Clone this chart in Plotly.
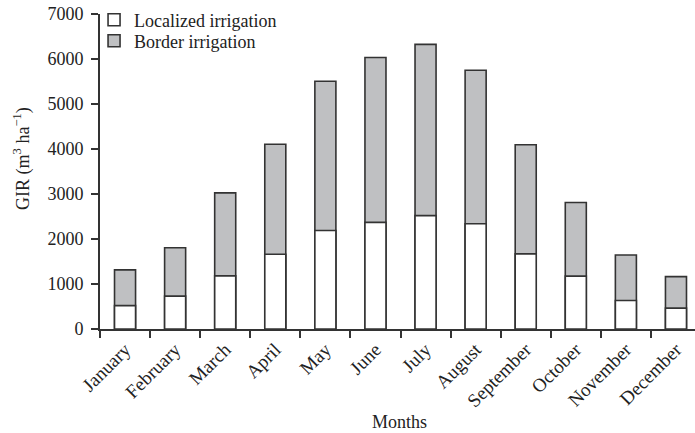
import plotly.graph_objects as go

months = ["January", "February", "March", "April", "May", "June", "July",
          "August", "September", "October", "November", "December"]
localized = [520, 730, 1180, 1660, 2190, 2370, 2520, 2340, 1670, 1175, 635, 465]
border = [1315, 1805, 3025, 4105, 5505, 6035, 6325, 5750, 4095, 2810, 1645, 1165]
y_ticks = [0, 1000, 2000, 3000, 4000, 5000, 6000, 7000]

FONT = "Liberation Serif"
LINE = "#333333"
FS = 18

fig = go.Figure()
fig.add_trace(go.Bar(
    x=months, y=border, name="Border irrigation", legend="legend2",
    marker=dict(color="#bfc0c2", line=dict(color=LINE, width=1.6)),
    width=0.42,
))
fig.add_trace(go.Bar(
    x=months, y=localized, name="Localized irrigation", legend="legend",
    marker=dict(color="white", line=dict(color=LINE, width=1.6)),
    width=0.42,
))

leg_common = dict(xref="paper", yref="container", xanchor="left", yanchor="middle",
                  bgcolor="rgba(0,0,0,0)", font=dict(size=FS), itemwidth=30,
                  borderwidth=0)

fig.update_layout(
    width=695, height=433,
    margin=dict(l=100, r=0, t=14, b=104, autoexpand=False),
    barmode="overlay",
    plot_bgcolor="white", paper_bgcolor="white",
    font=dict(family=FONT, size=FS, color="#222222"),
    showlegend=True,
    legend=dict(x=-0.01, y=1 - 20 / 433, **leg_common),
    legend2=dict(x=-0.01, y=1 - 41 / 433, **leg_common),
    xaxis=dict(
        type="category", range=[-0.5, 11.38], automargin=False,
        tickson="boundaries", ticks="outside", ticklen=7, tickwidth=2, tickcolor=LINE,
        showline=True, linecolor=LINE, linewidth=2,
        tickangle=-45, tickfont=dict(size=19),
        showgrid=False, zeroline=False,
    ),
    yaxis=dict(
        range=[0, 7000], tickvals=y_ticks, automargin=False,
        ticks="outside", ticklen=7, tickwidth=2, tickcolor=LINE,
        ticklabelstandoff=4,
        showline=True, linecolor=LINE, linewidth=2,
        showgrid=False, zeroline=False, tickfont=dict(size=FS),
    ),
    annotations=[
        dict(text="Months", xref="paper", yref="paper", x=0.504, y=-0.295,
             showarrow=False, font=dict(size=FS), xanchor="center", yanchor="middle"),
        dict(text="GIR (m<sup>3</sup> ha<sup>\u22121</sup>)", xref="paper", yref="paper",
             x=-78 / 595, y=0.54, textangle=-90, showarrow=False,
             font=dict(size=FS), xanchor="center", yanchor="middle"),
    ],
)

fig.write_html(
    "out.html",
    config={"displayModeBar": False},
    post_script="document.body.style.margin='0';document.body.style.padding='0';",
)
